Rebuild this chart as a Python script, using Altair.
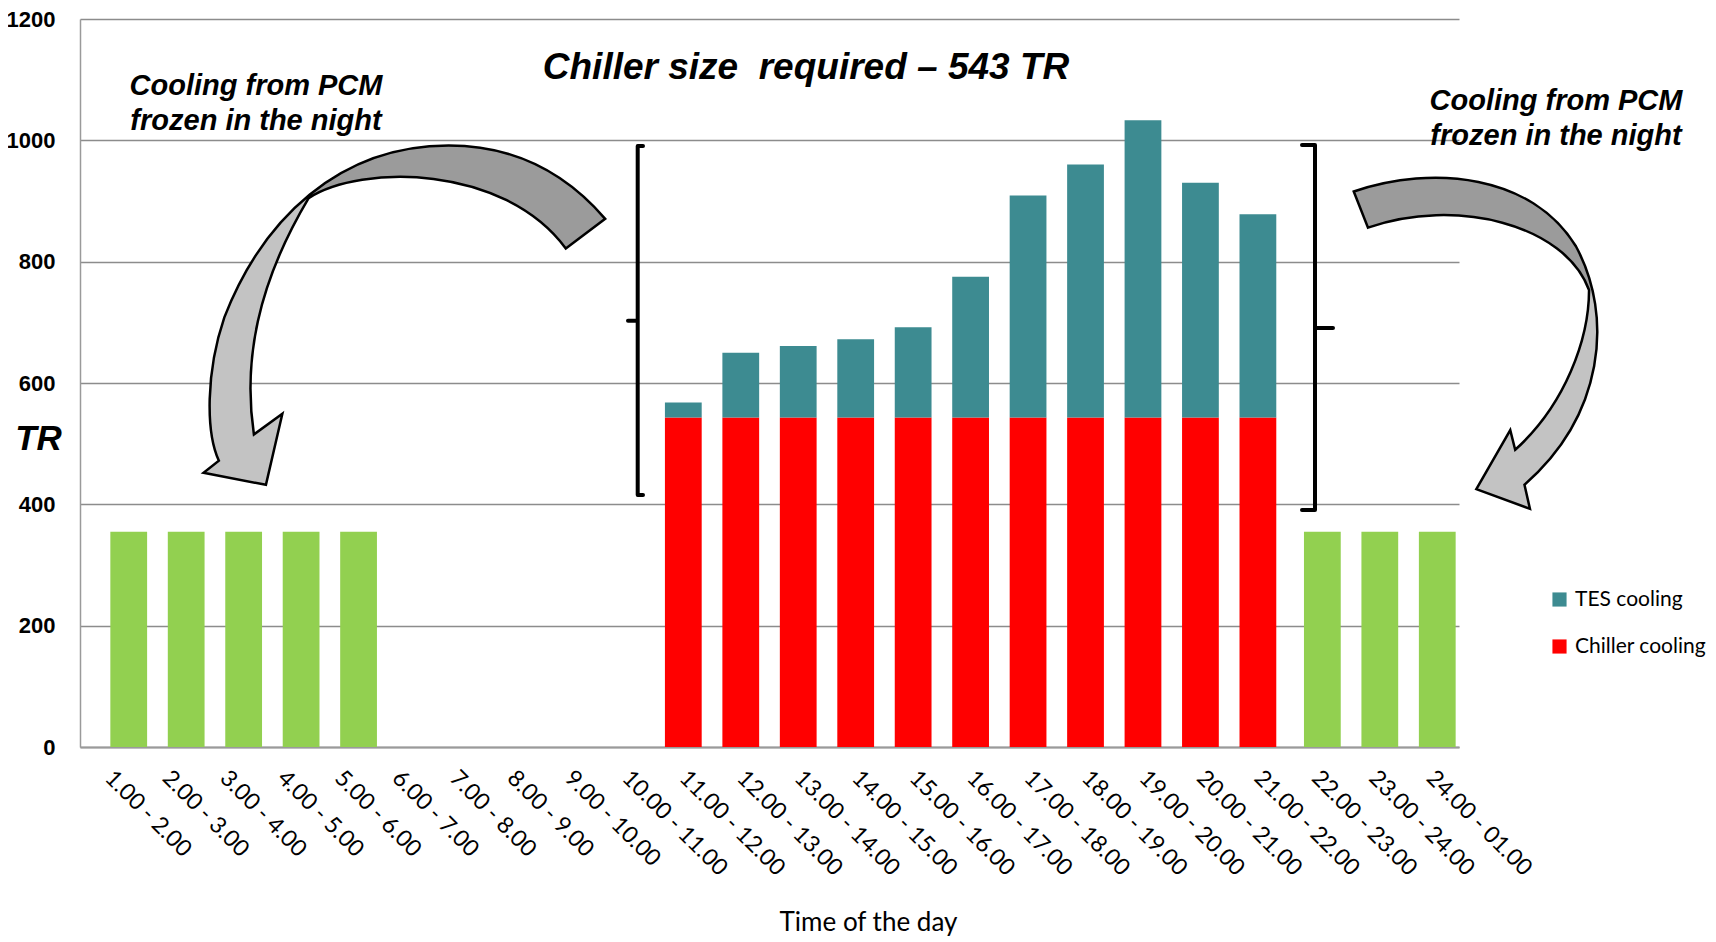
import altair as alt
import pandas as pd

# ---------------- data ----------------
hours = ["1.00 - 2.00", "2.00 - 3.00", "3.00 - 4.00", "4.00 - 5.00", "5.00 - 6.00",
         "6.00 - 7.00", "7.00 - 8.00", "8.00 - 9.00", "9.00 - 10.00", "10.00 - 11.00",
         "11.00 - 12.00", "12.00 - 13.00", "13.00 - 14.00", "14.00 - 15.00", "15.00 - 16.00",
         "16.00 - 17.00", "17.00 - 18.00", "18.00 - 19.00", "19.00 - 20.00", "20.00 - 21.00",
         "21.00 - 22.00", "22.00 - 23.00", "23.00 - 24.00", "24.00 - 01.00"]
night_pcm = [355, 355, 355, 355, 355, 0, 0, 0, 0, 0, 0, 0, 0, 0, 0, 0, 0, 0, 0, 0, 0, 355, 355, 355]
chiller = [0, 0, 0, 0, 0, 0, 0, 0, 0, 0, 543, 543, 543, 543, 543, 543, 543, 543, 543, 543, 543, 0, 0, 0]
tes = [0, 0, 0, 0, 0, 0, 0, 0, 0, 0, 25, 107, 118, 129, 149, 232, 366, 417, 490, 387, 335, 0, 0, 0]
y_ticks = [0, 200, 400, 600, 800, 1000, 1200]
series_names = ["TES cooling", "Chiller cooling"]
series_colors = ["#3D8B91", "#FF0000"]
night_color = "#92D050"

title_text = "Chiller size\u00a0 required \u2013 543 TR"
pcm_text = "Cooling from PCM\nfrozen in the night"

# ---------------- layout ----------------
S = 1716 / 1568          # reference sketch scale
W, H = 1379, 728
X0, Y0 = 80, 19          # page position of plot origin
BAND = W / 24


def to_data(px, py):
    return (px - X0) / BAND, (Y0 + H - py) * 1200 / H


rows = []
for i, h in enumerate(hours):
    if chiller[i]:
        rows.append(dict(hour=h, series=series_names[1], value=chiller[i], ord=1))
    if tes[i]:
        rows.append(dict(hour=h, series=series_names[0], value=tes[i], ord=2))
df = pd.DataFrame(rows)

night_rows = [dict(hour=h, value=night_pcm[i], side="am" if i < 12 else "pm")
              for i, h in enumerate(hours) if night_pcm[i]]
ndf = pd.DataFrame(night_rows)

yscale = alt.Scale(domain=[0, 1200], nice=False, zero=True)
qx = alt.Scale(domain=[0, 24], nice=False, zero=False)
xband = alt.Scale(domain=hours, paddingInner=0.36, paddingOuter=0.18)

bars = alt.Chart(df).mark_bar().encode(
    x=alt.X("hour:N", sort=hours, scale=xband,
            axis=alt.Axis(title="Time of the day", labelAngle=45, labelAlign="left",
                          labelBaseline="middle", labelPadding=27, labelFont="Lato",
                          labelFontSize=23, labelColor="black", ticks=False,
                          domainColor="#9a9a9a", domainWidth=2, grid=False,
                          titleFont="Lato", titleFontSize=26, titleFontWeight="normal",
                          titleColor="black", titleX=788, titleY=175, titleAlign="center",
                          titleBaseline="middle", labelOverlap=False)),
    y=alt.Y("value:Q", stack="zero", scale=yscale,
            axis=alt.Axis(values=y_ticks, format="d", title="TR", titleAngle=0,
                          titleX=-42, titleY=419,
                          titleAlign="center", titleBaseline="middle",
                          titleFont="Liberation Sans", titleFontSize=35,
                          titleFontWeight="bold", titleFontStyle="italic", titleColor="black",
                          labelFont="Liberation Sans", labelFontWeight="bold",
                          labelFontSize=22, labelColor="black", labelPadding=25,
                          ticks=False, domainColor="#9a9a9a", domainWidth=1.5,
                          grid=True, gridColor="#8c8c8c", gridWidth=1.5)),
    color=alt.Color("series:N", scale=alt.Scale(domain=series_names, range=series_colors),
                    legend=alt.Legend(title=None, orient="none",
                                      legendX=1469, legendY=570, symbolType="square",
                                      symbolSize=200, symbolStrokeWidth=0,
                                      labelFont="Lato", labelFontSize=21,
                                      labelColor="black", rowPadding=25, labelOffset=5)),
    order=alt.Order("ord:Q"),
)


def night_layer(side, shift):
    return alt.Chart(ndf).transform_filter(alt.datum.side == side).mark_bar(
        color=night_color, xOffset=shift
    ).encode(
        x=alt.X("hour:N", sort=hours, scale=xband, axis=None),
        y=alt.Y("value:Q", scale=yscale, axis=None),
    )


# ---------------- annotations ----------------
tx, ty = to_data(806, 68)
title_df = pd.DataFrame([dict(px=tx, py=ty, t=title_text)])
title_layer = alt.Chart(title_df).mark_text(
    font="Liberation Sans", fontWeight="bold", fontStyle="italic", fontSize=37,
    align="center", baseline="middle", color="black"
).encode(x=alt.X("px:Q", scale=qx, axis=None), y=alt.Y("py:Q", scale=yscale, axis=None),
         text="t:N")

lx, ly = to_data(256, 95)
rx, ry = to_data(1556, 110)
pcm_df = pd.DataFrame([dict(px=lx, py=ly, t=pcm_text), dict(px=rx, py=ry, t=pcm_text)])
pcm_layer = alt.Chart(pcm_df).mark_text(
    font="Liberation Sans", fontWeight="bold", fontStyle="italic", fontSize=29,
    align="center", baseline="alphabetic", lineBreak="\n", lineHeight=35, color="black"
).encode(x=alt.X("px:Q", scale=qx, axis=None), y=alt.Y("py:Q", scale=yscale, axis=None),
         text="t:N")

# brackets
left_br = [(643, 146), (637.7, 146), (637.7, 320.7), (628, 320.7), (637.7, 320.7), (637.7, 495), (643, 495)]
right_br = [(1302, 145), (1315, 145), (1315, 328), (1333, 328), (1315, 328), (1315, 510), (1302, 510)]
br_rows = []
for name, pts in [("L", left_br), ("R", right_br)]:
    for k, (a, b) in enumerate(pts):
        dx, dy = to_data(a, b)
        br_rows.append(dict(b=name, o=k, px=dx, py=dy))
br_layer = alt.Chart(pd.DataFrame(br_rows)).mark_line(
    color="black", strokeWidth=4, strokeJoin="round", strokeCap="round"
).encode(x=alt.X("px:Q", scale=qx, axis=None), y=alt.Y("py:Q", scale=yscale, axis=None),
         detail="b:N", order="o:Q")

# curved arrows (shape outlines in sketch pixels)
left_arrow = [
    ("M", [(553, 200)]),
    ("C", [(510, 150), (460, 133), (410, 133)]),
    ("C", [(310, 133), (240, 200), (205, 290)]),
    ("C", [(188, 340), (188, 395), (200, 421)]),
    ("L", [(186, 432)]),
    ("L", [(243, 443)]),
    ("L", [(258, 378)]),
    ("L", [(232, 397)]),
    ("C", [(222, 330), (235, 260), (282, 181)]),
    ("C", [(330, 150), (460, 150), (517, 227)]),
    ("Z", []),
]
right_arrow = [
    ("M", [(1237, 175)]),
    ("C", [(1310, 150), (1400, 160), (1440, 225)]),
    ("C", [(1475, 290), (1465, 380), (1393, 443)]),
    ("L", [(1398, 465)]),
    ("L", [(1349, 447)]),
    ("L", [(1380, 393)]),
    ("L", [(1384.5, 411)]),
    ("C", [(1430, 370), (1452, 310), (1452, 265)]),
    ("C", [(1430, 205), (1330, 180), (1250, 208)]),
    ("Z", []),
]


def symbol_path(cmds):
    pts = [p for _, ps in cmds for p in ps]
    xs = [p[0] * S for p in pts]
    ys = [p[1] * S for p in pts]
    cx = (min(xs) + max(xs)) / 2
    cy = (min(ys) + max(ys)) / 2
    r = max(max(xs) - min(xs), max(ys) - min(ys)) / 2
    parts = []
    for c, ps in cmds:
        coords = " ".join(f"{(x * S - cx) / r:.4f} {(y * S - cy) / r:.4f}" for x, y in ps)
        parts.append((c + " " + coords).strip())
    return " ".join(parts), cx, cy, r


def arrow_layer(cmds, grad):
    path, cx, cy, r = symbol_path(cmds)
    ax, ay = to_data(cx, cy)
    d = pd.DataFrame([dict(px=ax, py=ay)])
    return alt.Chart(d).mark_point(
        shape=path, size=(2 * r) ** 2, filled=True, fill=grad, stroke="black",
        strokeWidth=2.5, opacity=1, fillOpacity=1, strokeOpacity=1
    ).encode(x=alt.X("px:Q", scale=qx, axis=None), y=alt.Y("py:Q", scale=yscale, axis=None))


dark, light = "#9b9b9b", "#c3c3c3"
grad_left = {"gradient": "linear", "x1": 1, "y1": 0, "x2": 0, "y2": 1,
             "stops": [{"offset": 0, "color": dark}, {"offset": 0.44, "color": dark},
                       {"offset": 0.46, "color": light}, {"offset": 1, "color": light}]}
grad_right = {"gradient": "linear", "x1": 0, "y1": 0, "x2": 0, "y2": 1,
              "stops": [{"offset": 0, "color": dark}, {"offset": 0.33, "color": dark},
                        {"offset": 0.36, "color": light}, {"offset": 1, "color": light}]}

chart = alt.layer(
    bars, night_layer("am", 20), night_layer("pm", 7),
    br_layer, arrow_layer(left_arrow, grad_left), arrow_layer(right_arrow, grad_right),
    title_layer, pcm_layer
).resolve_scale(x="independent").resolve_axis(y="independent").properties(
    width=W, height=H,
    background="white",
    autosize=alt.AutoSizeParams(type="none"),
    padding={"left": 72, "top": 11, "right": 249, "bottom": 189},
).configure_view(strokeWidth=0)

chart.save("out.html", embed_options={"renderer": "svg", "actions": False})
